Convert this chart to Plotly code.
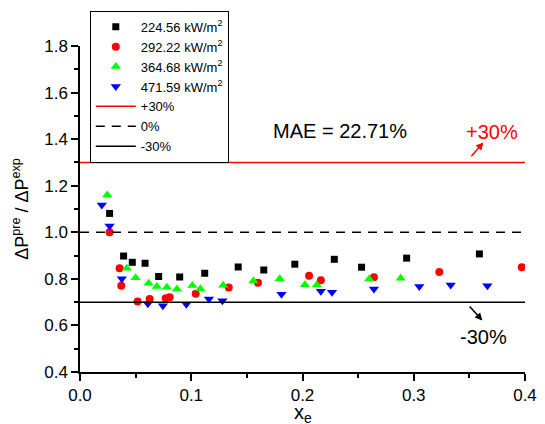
import plotly.graph_objects as go

# ---------------- data ----------------
sq_x = [0.0266, 0.0392, 0.0470, 0.0585, 0.0707, 0.0896, 0.1121, 0.1422, 0.1652, 0.1931, 0.2286, 0.2531, 0.2936, 0.3590]
sq_y = [1.081, 0.898, 0.871, 0.867, 0.810, 0.808, 0.824, 0.851, 0.838, 0.863, 0.884, 0.850, 0.889, 0.907]

ci_x = [0.0266, 0.0356, 0.0371, 0.0518, 0.0626, 0.0770, 0.0806, 0.1040, 0.1337, 0.1600, 0.2059, 0.2165, 0.2642, 0.3230, 0.3971]
ci_y = [1.000, 0.846, 0.770, 0.703, 0.713, 0.717, 0.721, 0.736, 0.763, 0.783, 0.813, 0.794, 0.807, 0.829, 0.850]

tu_x = [0.0245, 0.0421, 0.0500, 0.0617, 0.0691, 0.0781, 0.0871, 0.1010, 0.1082, 0.1287, 0.1559, 0.1796, 0.2021, 0.2129, 0.2599, 0.2882]
tu_y = [1.160, 0.846, 0.805, 0.781, 0.767, 0.764, 0.756, 0.771, 0.757, 0.773, 0.791, 0.800, 0.775, 0.775, 0.799, 0.803]

td_x = [0.0196, 0.0266, 0.0376, 0.0610, 0.0745, 0.0956, 0.1159, 0.1280, 0.1811, 0.2165, 0.2265, 0.2642, 0.3050, 0.3332, 0.3662]
td_y = [1.117, 1.027, 0.800, 0.693, 0.684, 0.691, 0.714, 0.706, 0.734, 0.747, 0.742, 0.756, 0.767, 0.774, 0.770]

series_names = ["224.56 kW/m<sup>2</sup>", "292.22 kW/m<sup>2</sup>",
                "364.68 kW/m<sup>2</sup>", "471.59 kW/m<sup>2</sup>"]

ref_x = [0.0, 0.4]
ref_plus = [1.3, 1.3]
ref_zero = [1.0, 1.0]
ref_minus = [0.7, 0.7]
ref_names = ["+30%", "0%", "-30%"]

x_ticks = [0.0, 0.1, 0.2, 0.3, 0.4]
y_ticks = [0.4, 0.6, 0.8, 1.0, 1.2, 1.4, 1.6, 1.8]

FONT = "Liberation Sans, Arial, Helvetica, sans-serif"

fig = go.Figure()

fig.add_trace(go.Scatter(x=sq_x, y=sq_y, mode="markers", name=series_names[0],
                         marker=dict(symbol="square", size=7, color="black")))
fig.add_trace(go.Scatter(x=ci_x, y=ci_y, mode="markers", name=series_names[1],
                         marker=dict(symbol="circle", size=8, color="#ff0000")))
fig.add_trace(go.Scatter(x=tu_x, y=tu_y, mode="markers", name=series_names[2],
                         marker=dict(symbol="triangle-up", size=9, color="#00ff00")))
fig.add_trace(go.Scatter(x=td_x, y=td_y, mode="markers", name=series_names[3],
                         marker=dict(symbol="triangle-down", size=9, color="#0000ff")))

fig.add_trace(go.Scatter(x=ref_x, y=ref_plus, mode="lines", name=ref_names[0],
                         line=dict(color="#ff0000", width=1.5)))
fig.add_trace(go.Scatter(x=ref_x, y=ref_zero, mode="lines", name=ref_names[1],
                         line=dict(color="black", width=1.5, dash="9px,7px")))
fig.add_trace(go.Scatter(x=ref_x, y=ref_minus, mode="lines", name=ref_names[2],
                         line=dict(color="black", width=1.5)))

annos = [
    dict(x=0.2336, y=1.434, text="MAE = 22.71%", showarrow=False,
         font=dict(size=20, color="black", family=FONT)),
    dict(x=0.3704, y=1.431, text="+30%", showarrow=False,
         font=dict(size=20, color="#ff0000", family=FONT)),
    dict(x=0.3627, y=0.549, text="-30%", showarrow=False,
         font=dict(size=20, color="black", family=FONT)),
    dict(x=0.3626, y=1.386, ax=0.3506, ay=1.320, axref="x", ayref="y", text="",
         showarrow=True, arrowhead=2, arrowsize=1, arrowwidth=1.5, arrowcolor="#ff0000"),
    dict(x=0.3617, y=0.621, ax=0.349, ay=0.688, axref="x", ayref="y", text="",
         showarrow=True, arrowhead=2, arrowsize=1, arrowwidth=1.5, arrowcolor="black"),
    # x-axis title
    dict(x=0.5, y=-0.082, xref="paper", yref="paper", xanchor="center", yanchor="top",
         text="x<sub>e</sub>", showarrow=False, font=dict(size=20, color="black", family=FONT)),
]

fig.update_layout(
    width=545, height=424,
    margin=dict(l=80, r=20, t=46, b=52, pad=0, autoexpand=False),
    paper_bgcolor="white", plot_bgcolor="white",
    font=dict(family=FONT, size=17, color="black"),
    annotations=annos,
    legend=dict(x=0.022, y=1.108, xanchor="left", yanchor="top",
                bordercolor="black", borderwidth=1, bgcolor="white",
                font=dict(size=13, family=FONT), tracegroupgap=0, itemwidth=40),
    xaxis=dict(range=[0, 0.4], tickvals=x_ticks, ticktext=[f"{v:.1f}" for v in x_ticks],
               showgrid=False, zeroline=False, showline=True, linecolor="black", linewidth=1.5,
               ticks="outside", ticklen=7, tickwidth=1.5, tickcolor="black", automargin=False,
               minor=dict(dtick=0.05, ticks="outside", ticklen=4, tickwidth=1.5, tickcolor="black")),
    yaxis=dict(range=[0.4, 1.8], tickvals=y_ticks, ticktext=[f"{v:.1f}" for v in y_ticks],
               showgrid=False, zeroline=False, showline=True, linecolor="black", linewidth=1.5,
               ticks="outside", ticklen=7, tickwidth=1.5, tickcolor="black", automargin=False,
               minor=dict(dtick=0.1, ticks="outside", ticklen=4, tickwidth=1.5, tickcolor="black"),
               title=dict(text="ΔP<sup>pre</sup> / ΔP<sup>exp</sup>", font=dict(size=18), standoff=11)),
)

fig.write_html("out.html")
